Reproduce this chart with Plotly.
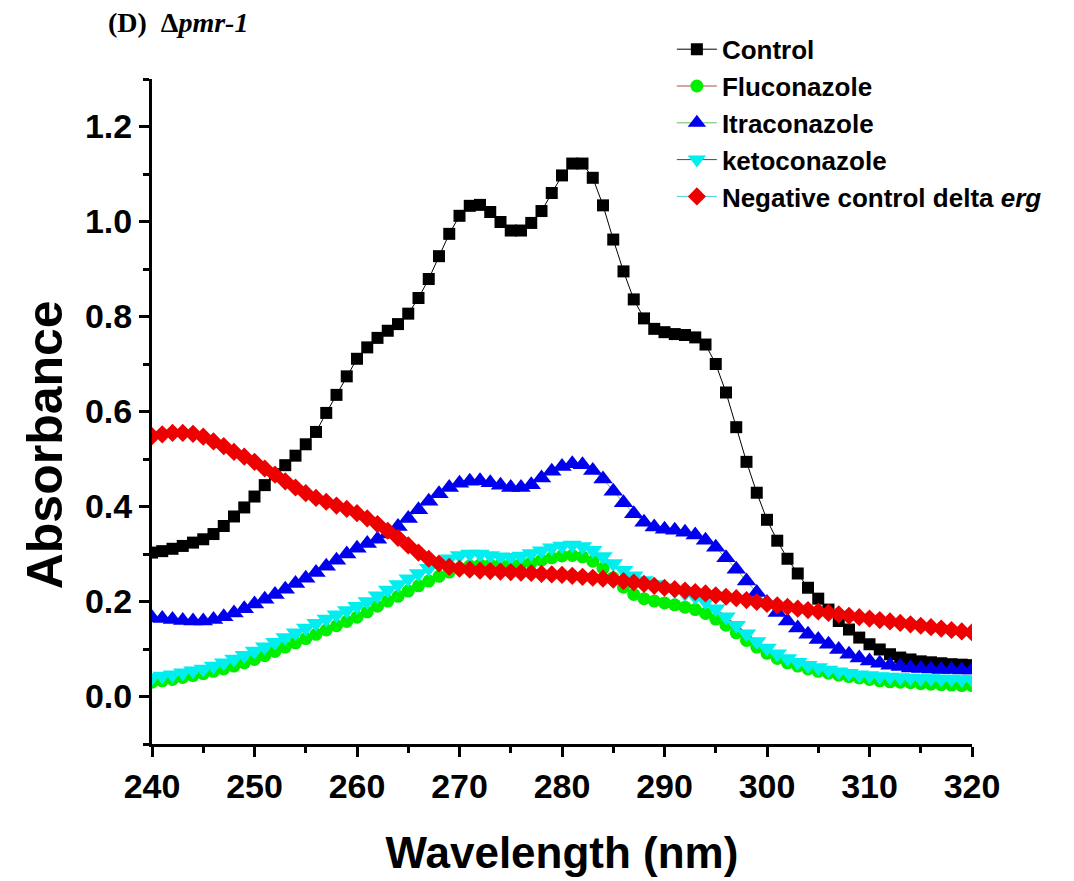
import plotly.graph_objects as go

wavelength = list(range(240, 321))

control = [0.303, 0.306, 0.311, 0.317, 0.324, 0.331, 0.342, 0.359, 0.379, 0.398,
           0.421, 0.445, 0.468, 0.487, 0.507, 0.531, 0.557, 0.597, 0.635, 0.674,
           0.711, 0.735, 0.755, 0.770, 0.784, 0.806, 0.839, 0.879, 0.927, 0.974,
           1.012, 1.033, 1.035, 1.020, 0.999, 0.981, 0.981, 0.997, 1.022, 1.060,
           1.097, 1.122, 1.122, 1.092, 1.034, 0.962, 0.895, 0.836, 0.796, 0.774,
           0.767, 0.763, 0.761, 0.756, 0.741, 0.700, 0.640, 0.567, 0.494, 0.429,
           0.372, 0.328, 0.290, 0.259, 0.229, 0.206, 0.183, 0.159, 0.141, 0.124,
           0.110, 0.099, 0.089, 0.082, 0.078, 0.074, 0.072, 0.070, 0.068, 0.067,
           0.066]

fluconazole = [0.030, 0.033, 0.036, 0.040, 0.044, 0.048, 0.053, 0.058, 0.064, 0.071,
               0.078, 0.086, 0.095, 0.104, 0.113, 0.122, 0.131, 0.140, 0.149, 0.158,
               0.167, 0.178, 0.190, 0.201, 0.211, 0.222, 0.233, 0.243, 0.253, 0.262,
               0.270, 0.275, 0.277, 0.277, 0.277, 0.278, 0.279, 0.282, 0.287, 0.292,
               0.296, 0.297, 0.294, 0.285, 0.270, 0.250, 0.230, 0.215, 0.206, 0.201,
               0.197, 0.193, 0.188, 0.183, 0.175, 0.163, 0.150, 0.134, 0.118, 0.104,
               0.091, 0.080, 0.071, 0.064, 0.058, 0.053, 0.049, 0.045, 0.042, 0.039,
               0.036, 0.033, 0.031, 0.030, 0.029, 0.027, 0.026, 0.025, 0.024, 0.023,
               0.023]

itraconazole = [0.166, 0.164, 0.162, 0.160, 0.159, 0.159, 0.162, 0.168, 0.176, 0.185,
                0.195, 0.205, 0.215, 0.226, 0.238, 0.249, 0.261, 0.274, 0.287, 0.300,
                0.312, 0.322, 0.331, 0.342, 0.358, 0.375, 0.393, 0.411, 0.427, 0.440,
                0.449, 0.453, 0.454, 0.450, 0.445, 0.440, 0.440, 0.446, 0.460, 0.474,
                0.484, 0.490, 0.488, 0.476, 0.458, 0.432, 0.408, 0.385, 0.367, 0.357,
                0.352, 0.350, 0.346, 0.340, 0.329, 0.314, 0.292, 0.268, 0.243, 0.219,
                0.198, 0.177, 0.159, 0.144, 0.131, 0.120, 0.110, 0.099, 0.089, 0.081,
                0.075, 0.070, 0.066, 0.063, 0.060, 0.059, 0.058, 0.057, 0.057, 0.056,
                0.056]

ketoconazole = [0.040, 0.043, 0.046, 0.050, 0.054, 0.058, 0.064, 0.071, 0.079, 0.087,
                0.096, 0.105, 0.114, 0.124, 0.134, 0.144, 0.154, 0.163, 0.172, 0.181,
                0.190, 0.200, 0.212, 0.224, 0.236, 0.248, 0.259, 0.270, 0.281, 0.290,
                0.297, 0.300, 0.300, 0.297, 0.294, 0.293, 0.296, 0.301, 0.307, 0.313,
                0.317, 0.319, 0.316, 0.308, 0.295, 0.280, 0.266, 0.254, 0.244, 0.236,
                0.229, 0.223, 0.217, 0.210, 0.200, 0.185, 0.168, 0.150, 0.132, 0.116,
                0.102, 0.090, 0.080, 0.072, 0.066, 0.061, 0.056, 0.052, 0.049, 0.046,
                0.044, 0.042, 0.041, 0.040, 0.039, 0.038, 0.038, 0.037, 0.037, 0.036,
                0.036]

negative_erg = [0.548, 0.552, 0.555, 0.555, 0.553, 0.547, 0.537, 0.527, 0.515, 0.505,
                0.494, 0.480, 0.467, 0.453, 0.440, 0.428, 0.418, 0.410, 0.402, 0.395,
                0.386, 0.375, 0.363, 0.349, 0.334, 0.318, 0.303, 0.290, 0.280, 0.273,
                0.269, 0.267, 0.265, 0.264, 0.263, 0.262, 0.261, 0.260, 0.258, 0.257,
                0.256, 0.254, 0.252, 0.250, 0.248, 0.246, 0.243, 0.240, 0.237, 0.233,
                0.229, 0.226, 0.223, 0.220, 0.217, 0.213, 0.210, 0.207, 0.203, 0.199,
                0.195, 0.192, 0.189, 0.185, 0.182, 0.179, 0.176, 0.173, 0.170, 0.167,
                0.164, 0.161, 0.158, 0.155, 0.152, 0.149, 0.146, 0.143, 0.140, 0.137,
                0.135]

series = [
    ("Control", control, "square", "#000000", "#000000", 12),
    ("Fluconazole", fluconazole, "circle", "#00ee00", "#b04848", 13),
    ("Itraconazole", itraconazole, "triangle-up", "#0000ee", "#60c060", 17),
    ("ketoconazole", ketoconazole, "triangle-down", "#00eeee", "#464670", 17),
    ("Negative control delta <i>erg</i>", negative_erg, "diamond", "#ee0000", "#50d0e0", 14),
]

FONT = "Liberation Sans, Arial, sans-serif"

fig = go.Figure()
for name, vals, sym, mcol, lcol, size in series:
    fig.add_trace(go.Scatter(
        x=wavelength, y=vals, name=name, mode="lines+markers",
        line=dict(color=lcol, width=1),
        marker=dict(symbol=sym, color=mcol, size=size, line=dict(width=0)),
    ))

axis_common = dict(
    showline=True, linecolor="black", linewidth=3,
    ticks="outside", ticklen=10, tickwidth=3, tickcolor="black",
    showgrid=False, zeroline=False, mirror=False,
    tickfont=dict(family=FONT, size=34, color="black", weight="bold"),
)

fig.update_xaxes(
    range=[240, 320], tick0=240, dtick=10,
    minor=dict(ticks="outside", ticklen=6, tickwidth=3, tickcolor="black", dtick=5),
    title=dict(text="<b>Wavelength (nm)</b>", font=dict(family=FONT, size=44, color="black"), standoff=34),
    **axis_common,
)
fig.update_yaxes(
    range=[-0.1, 1.3], tick0=0, dtick=0.2, tickformat=".1f",
    minor=dict(ticks="outside", ticklen=6, tickwidth=3, tickcolor="black", dtick=0.1, tick0=0),
    **axis_common,
)

fig.update_layout(
    width=1074, height=881,
    margin=dict(l=152, r=102, t=79, b=137),
    plot_bgcolor="white", paper_bgcolor="white",
    legend=dict(
        x=0.634, y=1.08, xanchor="left", yanchor="top",
        font=dict(family=FONT, size=26, color="black", weight="bold"),
        bgcolor="rgba(0,0,0,0)", itemwidth=40, tracegroupgap=0,
    ),
    annotations=[
        dict(
            text="<b>(D)  Δ<i>pmr-1</i></b>", xref="paper", yref="paper",
            x=-0.056, y=1.085, xanchor="left", yanchor="middle", showarrow=False,
            font=dict(family="Liberation Serif, Times New Roman, serif", size=28, color="black"),
        ),
        dict(
            text="<b>Absorbance</b>", xref="paper", yref="paper",
            x=-0.131, y=0.45, xanchor="center", yanchor="middle", showarrow=False,
            textangle=-90,
            font=dict(family=FONT, size=50, color="black"),
        ),
    ],
)

fig.write_html("out.html")
